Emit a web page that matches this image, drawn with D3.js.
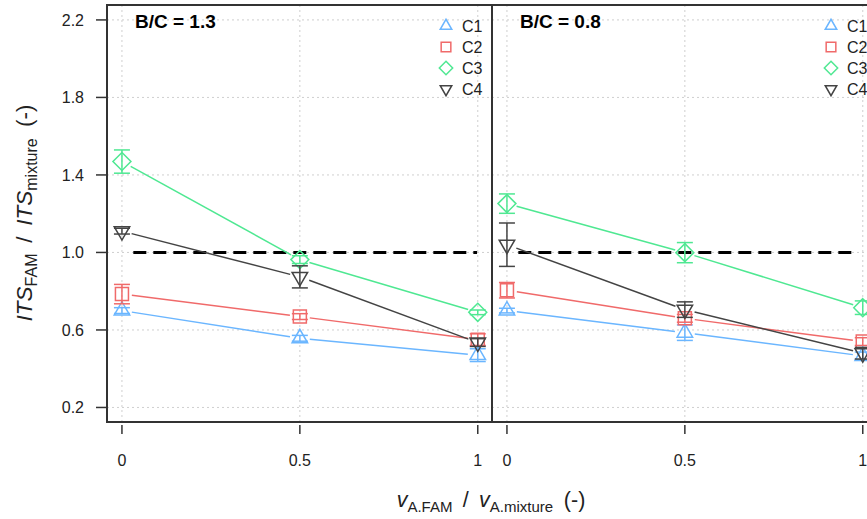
<!DOCTYPE html>
<html><head><meta charset="utf-8">
<script src="https://cdn.jsdelivr.net/npm/d3@7"></script>
<style>
html,body{margin:0;padding:0;background:#fff;}
svg{display:block;font-family:"Liberation Sans",Arial,Helvetica,sans-serif;}
</style></head>
<body><svg id="chart" width="867" height="519"></svg>
<script>
// ---- data ----
const xValues = [0, 0.5, 1];
const xTickLabels = ["0", "0.5", "1"];
const yTicks = [0.2, 0.6, 1.0, 1.4, 1.8, 2.2];
const seriesNames = ["C1", "C2", "C3", "C4"];
const panelTitles = ["B/C = 1.3", "B/C = 0.8"];
// Panel B/C = 1.3
const p1_C1 = [0.70, 0.557, 0.47];
const p1_C2 = [0.785, 0.669, 0.55];
const p1_C3 = [1.469, 0.963, 0.691];
const p1_C4 = [1.11, 0.874, 0.535];
const p1_C1_err = [0.015, 0.015, 0.033];
const p1_C2_err = [0.05, 0.015, 0.03];
const p1_C3_err = [0.06, 0.02, 0.012];
const p1_C4_err = [0.015, 0.057, 0.02];
// Panel B/C = 0.8
const p2_C1 = [0.70, 0.586, 0.466];
const p2_C2 = [0.805, 0.66, 0.54];
const p2_C3 = [1.252, 0.999, 0.715];
const p2_C4 = [1.04, 0.705, 0.48];
const p2_C1_err = [0.012, 0.04, 0.02];
const p2_C2_err = [0.04, 0.02, 0.02];
const p2_C3_err = [0.05, 0.052, 0.035];
const p2_C4_err = [0.112, 0.04, 0.03];
const refLine = 1.0;

const colors = {C1:"#6BB6FF", C2:"#F06A6A", C3:"#4FE892", C4:"#444444"};
const shapes = {C1:"triUp", C2:"square", C3:"diamond", C4:"triDown"};

const panels = [
  {title: panelTitles[0], vals:{C1:p1_C1,C2:p1_C2,C3:p1_C3,C4:p1_C4}, errs:{C1:p1_C1_err,C2:p1_C2_err,C3:p1_C3_err,C4:p1_C4_err}, left:107},
  {title: panelTitles[1], vals:{C1:p2_C1,C2:p2_C2,C3:p2_C3,C4:p2_C4}, errs:{C1:p2_C1_err,C2:p2_C2_err,C3:p2_C3_err,C4:p2_C4_err}, left:492}
];

const svg = d3.select("#chart");
const plotTop = 5, plotBottom = 422, pw = 385;
const y = d3.scaleLinear().domain([0.125, 2.277]).range([plotBottom, plotTop]);

function shapePath(type, cx, cy, s){
  if(type==="triUp"){ const h=s*0.866; return `M${cx-s/2},${cy+h/3}L${cx+s/2},${cy+h/3}L${cx},${cy-2*h/3}Z`; }
  if(type==="triDown"){ const h=s*0.866; return `M${cx-s/2},${cy-h/3}L${cx+s/2},${cy-h/3}L${cx},${cy+2*h/3}Z`; }
  if(type==="square"){ const a=s*0.42; return `M${cx-a},${cy-a}H${cx+a}V${cy+a}H${cx-a}Z`; }
  if(type==="diamond"){ const a=s*0.58; return `M${cx},${cy-a}L${cx+a},${cy}L${cx},${cy+a}L${cx-a},${cy}Z`; }
}

// y axis (left)
const yAxisG = svg.append("g").attr("transform",`translate(96,0)`);
yAxisG.call(d3.axisLeft(y).tickValues(yTicks).tickFormat(d3.format(".1f")).tickSize(0).tickPadding(12));
yAxisG.select(".domain").remove();
yAxisG.attr("font-size",16).attr("font-family","Liberation Sans, Arial, sans-serif");
yAxisG.selectAll("text").attr("font-size",16).attr("fill","#222");
// y tick marks
svg.append("g").selectAll("line").data(yTicks).join("line")
  .attr("x1",96).attr("x2",107).attr("y1",d=>y(d)).attr("y2",d=>y(d))
  .attr("stroke","#333").attr("stroke-width",1.5);

panels.forEach((p,pi)=>{
  const x = d3.scaleLinear().domain([-0.042, 1.04]).range([p.left, p.left+pw]);
  const g = svg.append("g");
  // grid
  g.selectAll(".vg").data(xValues).join("line")
    .attr("x1",d=>x(d)).attr("x2",d=>x(d)).attr("y1",plotTop).attr("y2",plotBottom)
    .attr("stroke","#cfcfcf").attr("stroke-width",1).attr("stroke-dasharray","2,3");
  g.selectAll(".hg").data(yTicks).join("line")
    .attr("x1",p.left).attr("x2",p.left+pw).attr("y1",d=>y(d)).attr("y2",d=>y(d))
    .attr("stroke","#cfcfcf").attr("stroke-width",1).attr("stroke-dasharray","2,3");
  // reference dashed line
  g.append("line").attr("x1",x(0.032)).attr("x2",x(pi===0?0.998:0.975))
    .attr("y1",y(refLine)).attr("y2",y(refLine))
    .attr("stroke","#000").attr("stroke-width",3).attr("stroke-dasharray","13,7");
  // series
  seriesNames.forEach(s=>{
    const vals = p.vals[s], errs = p.errs[s], col = colors[s];
    const pts = vals.map((v,i)=>[x(xValues[i]), y(v)]);
    const gap = 10;
    for(let i=0;i<pts.length-1;i++){
      const [x0,y0]=pts[i],[x1,y1]=pts[i+1];
      const dx=x1-x0, dy=y1-y0, L=Math.hypot(dx,dy);
      if(L<=2*gap) continue;
      g.append("line")
        .attr("x1",x0+dx/L*gap).attr("y1",y0+dy/L*gap)
        .attr("x2",x1-dx/L*gap).attr("y2",y1-dy/L*gap)
        .attr("stroke",col).attr("stroke-width",1.5);
    }
    vals.forEach((v,i)=>{
      const cx = x(xValues[i]);
      const e = errs[i];
      const yt=y(v+e), yb=y(v-e);
      g.append("line").attr("x1",cx).attr("x2",cx).attr("y1",yt).attr("y2",yb).attr("stroke",col).attr("stroke-width",1.5);
      g.append("line").attr("x1",cx-8).attr("x2",cx+8).attr("y1",yt).attr("y2",yt).attr("stroke",col).attr("stroke-width",1.5);
      g.append("line").attr("x1",cx-8).attr("x2",cx+8).attr("y1",yb).attr("y2",yb).attr("stroke",col).attr("stroke-width",1.5);
      g.append("path").attr("d",shapePath(shapes[s],cx,y(v),15.5))
        .attr("fill","none").attr("stroke",col).attr("stroke-width",1.5);
    });
  });
  // frame
  g.append("rect").attr("x",p.left).attr("y",plotTop).attr("width",pw).attr("height",plotBottom-plotTop)
    .attr("fill","none").attr("stroke","#333").attr("stroke-width",2);
  // x ticks
  g.selectAll(".xt").data(xValues).join("line")
    .attr("x1",d=>x(d)).attr("x2",d=>x(d)).attr("y1",425).attr("y2",434)
    .attr("stroke","#333").attr("stroke-width",1.5);
  g.selectAll(".xl").data(xValues).join("text")
    .attr("x",d=>x(d)).attr("y",466).attr("text-anchor","middle")
    .attr("font-size",16).attr("fill","#222")
    .text((d,i)=>xTickLabels[i]);
  // title
  g.append("text").attr("x",p.left+28).attr("y",28).attr("font-size",19).attr("font-weight","bold")
    .attr("fill","#000").text(p.title);
  // legend
  const lx = p.left+339;
  seriesNames.forEach((s,i)=>{
    const ly = 26 + i*21;
    g.append("path").attr("d",shapePath(shapes[s],lx,ly,11.5))
      .attr("fill","none").attr("stroke",colors[s]).attr("stroke-width",1.5);
    g.append("text").attr("x",lx+16).attr("y",ly+6).attr("font-size",16).attr("fill","#222").text(s);
  });
});

// x axis title
const xt = svg.append("text").attr("x",491).attr("y",507).attr("text-anchor","middle").attr("font-size",21.5).attr("fill","#222");
xt.append("tspan").attr("font-style","italic").text("v");
xt.append("tspan").attr("font-size",15).attr("dy",5).text("A.FAM");
xt.append("tspan").attr("dy",-5).text("\u2009 / \u2009");
xt.append("tspan").attr("font-style","italic").text("v");
xt.append("tspan").attr("font-size",15).attr("dy",5).text("A.mixture");
xt.append("tspan").attr("dy",-5).text("\u2002(-)");

// y axis title
const ytt = svg.append("text").attr("transform","translate(32,213) rotate(-90)").attr("text-anchor","middle").attr("font-size",22.5).attr("fill","#222");
ytt.append("tspan").attr("font-style","italic").text("ITS");
ytt.append("tspan").attr("font-size",16).attr("dy",5).text("FAM");
ytt.append("tspan").attr("dy",-5).text("\u2009 / \u2009");
ytt.append("tspan").attr("font-style","italic").text("ITS");
ytt.append("tspan").attr("font-size",16).attr("dy",5).text("mixture");
ytt.append("tspan").attr("dy",-5).text("\u2002(-)");
</script></body></html>
